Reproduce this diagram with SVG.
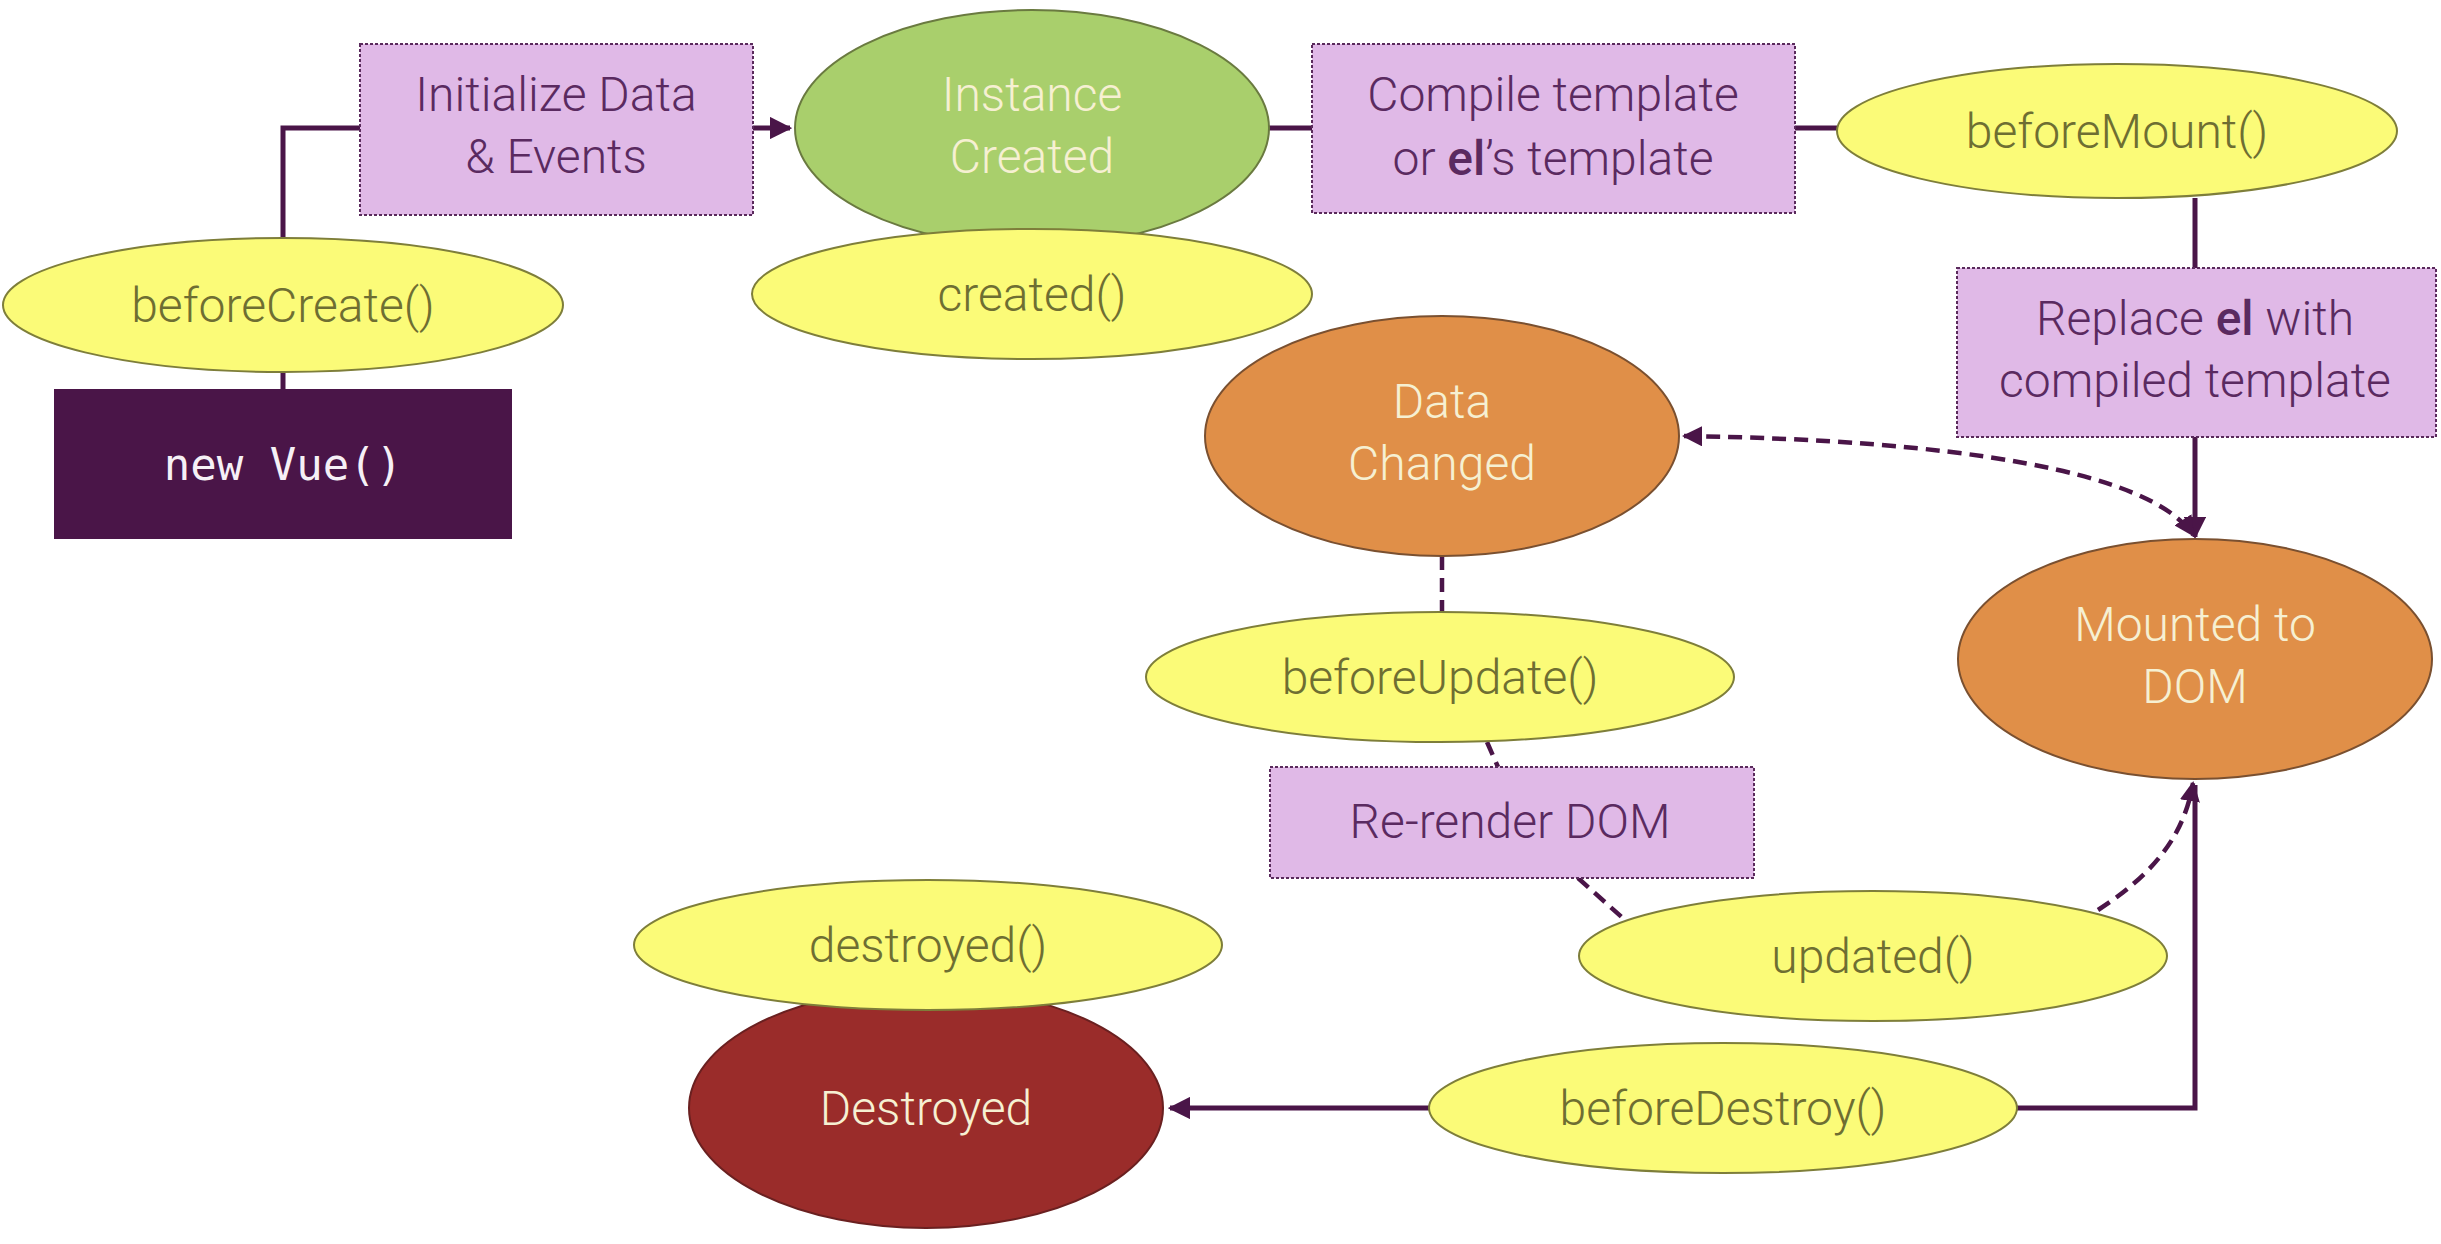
<svg xmlns="http://www.w3.org/2000/svg" width="2441" height="1244" viewBox="0 0 2441 1244">
<style>
.box{fill:#e0b9e7;stroke:#5a2a5c;stroke-width:2;stroke-dasharray:3 2}
.hook{fill:#fbfb78;stroke:#7e7e3a;stroke-width:2}
.btxt{font-family:Roboto,"Liberation Sans",sans-serif;font-size:48px;font-weight:300;fill:#5a2a60;text-anchor:middle}
.htxt{font-family:Roboto,"Liberation Sans",sans-serif;font-size:48px;font-weight:300;fill:#6e6e32;text-anchor:middle}
.stxt{font-family:Roboto,"Liberation Sans",sans-serif;font-size:48px;font-weight:300;fill:#f6f0d2;text-anchor:middle}
.line{fill:none;stroke:#4a1548;stroke-width:5}
.dash{fill:none;stroke:#4a1548;stroke-width:4.5;stroke-dasharray:14 8}
</style>
<defs>
<marker id="arr" viewBox="0 0 10 10" refX="9" refY="5" markerWidth="4.5" markerHeight="4.5" orient="auto-start-reverse" markerUnits="strokeWidth">
<path d="M0,0 L10,5 L0,10 z" fill="#4a1548"/>
</marker>
</defs>
<rect width="2441" height="1244" fill="#ffffff"/>
<g id="connectors">
<path class="line" d="M283,238 V128 H360"/>
<path class="line" d="M283,372 V389"/>
<path class="line" d="M753,128 H790" marker-end="url(#arr)"/>
<path class="line" d="M1269,128 H1312"/>
<path class="line" d="M1795,128 H1837"/>
<path class="line" d="M2195,198 V268"/>
<path class="line" d="M2195,437 V537" marker-end="url(#arr)"/>
<path class="dash" d="M1684,436 C1950,440 2150,470 2193,535" marker-start="url(#arr)" marker-end="url(#arr)"/>
<path class="dash" d="M1442,556 V612"/>
<path class="dash" d="M1487,742 L1498,767"/>
<path class="dash" d="M1578,878 L1625,920"/>
<path class="dash" d="M2098,910 C2160,870 2185,830 2193,783" marker-end="url(#arr)"/>
<path class="line" d="M2017,1108 H2195 V785"/>
<path class="line" d="M1429,1108 H1170" marker-end="url(#arr)"/>
</g>
<g id="new-vue">
<rect x="54" y="389" width="458" height="150" fill="#4a1548"/>
<text x="283" y="480" font-family="'DejaVu Sans Mono',monospace" font-size="44" font-weight="500" fill="#f6f0f6" text-anchor="middle">new Vue()</text>
</g>
<g id="before-create">
<ellipse class="hook" cx="283" cy="305" rx="280" ry="67"/>
<text class="htxt" x="283" y="322">beforeCreate()</text>
</g>
<g id="init-data">
<rect class="box" x="360" y="44" width="393" height="171"/>
<text class="btxt" x="556" y="111">Initialize Data</text>
<text class="btxt" x="556" y="173">&amp; Events</text>
</g>
<g id="instance-created">
<ellipse cx="1032" cy="128" rx="237" ry="118" fill="#a9cf6c" stroke="#6a7a40" stroke-width="2"/>
<text class="stxt" x="1032" y="111">Instance</text>
<text class="stxt" x="1032" y="173">Created</text>
</g>
<g id="created">
<ellipse class="hook" cx="1032" cy="294" rx="280" ry="65"/>
<text class="htxt" x="1032" y="311">created()</text>
</g>
<g id="compile">
<rect class="box" x="1312" y="44" width="483" height="169"/>
<text class="btxt" x="1553" y="111">Compile template</text>
<text class="btxt" x="1553" y="175">or <tspan font-weight="500">el</tspan>’s template</text>
</g>
<g id="before-mount">
<ellipse class="hook" cx="2117" cy="131" rx="280" ry="67"/>
<text class="htxt" x="2117" y="148">beforeMount()</text>
</g>
<g id="replace-el">
<rect class="box" x="1957" y="268" width="479" height="169"/>
<text class="btxt" x="2195" y="335">Replace <tspan font-weight="500">el</tspan> with</text>
<text class="btxt" x="2195" y="397">compiled template</text>
</g>
<g id="mounted">
<ellipse cx="2195" cy="659" rx="237" ry="120" fill="#e08f48" stroke="#7a5030" stroke-width="2"/>
<text class="stxt" x="2195" y="641">Mounted to</text>
<text class="stxt" x="2195" y="703">DOM</text>
</g>
<g id="data-changed">
<ellipse cx="1442" cy="436" rx="237" ry="120" fill="#e08f48" stroke="#7a5030" stroke-width="2"/>
<text class="stxt" x="1442" y="418">Data</text>
<text class="stxt" x="1442" y="480">Changed</text>
</g>
<g id="before-update">
<ellipse class="hook" cx="1440" cy="677" rx="294" ry="65"/>
<text class="htxt" x="1440" y="694">beforeUpdate()</text>
</g>
<g id="re-render">
<rect class="box" x="1270" y="767" width="484" height="111"/>
<text class="btxt" x="1510" y="838">Re-render DOM</text>
</g>
<g id="updated">
<ellipse class="hook" cx="1873" cy="956" rx="294" ry="65"/>
<text class="htxt" x="1873" y="973">updated()</text>
</g>
<g id="before-destroy">
<ellipse class="hook" cx="1723" cy="1108" rx="294" ry="65"/>
<text class="htxt" x="1723" y="1125">beforeDestroy()</text>
</g>
<g id="destroyed-state">
<ellipse cx="926" cy="1108" rx="237" ry="120" fill="#9a2c2a" stroke="#6a2020" stroke-width="2"/>
<text class="stxt" x="926" y="1125" fill="#f6e8ec">Destroyed</text>
</g>
<g id="destroyed-hook">
<ellipse class="hook" cx="928" cy="945" rx="294" ry="65"/>
<text class="htxt" x="928" y="962">destroyed()</text>
</g>
</svg>
